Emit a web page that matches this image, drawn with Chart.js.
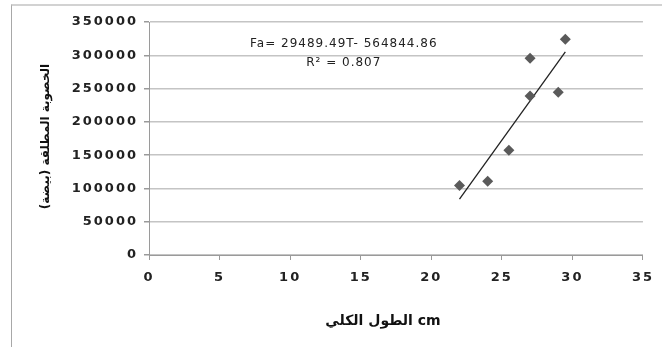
<!DOCTYPE html>
<html>
<head>
<meta charset="utf-8">
<script src="https://cdn.jsdelivr.net/npm/chart.js@4"></script>
<style>
  body { margin: 0; background: #fff; }
  #wrap { position: relative; width: 662px; height: 347px; overflow: hidden; }
  #frame { position: absolute; left: 11px; top: 4px; width: 660px; height: 360px;
           border-top: 2px solid #d2d2d2; border-left: 1px solid #a8a8a8; border-right: 1px solid #c8c8c8; }
  canvas { position: absolute; left: 0; top: 0; }
</style>
</head>
<body>
<div id="wrap">
  <div id="frame"></div>
  <canvas id="myChart" width="662" height="347"></canvas>
</div>
<script>
// valores
const longitud = [22, 24, 25.5, 27, 27, 29, 29.5];
const fecundidad = [104400, 110850, 157500, 238700, 295400, 244300, 324000];
const ticksX = [0, 5, 10, 15, 20, 25, 30, 35];
const ticksY = [0, 50000, 100000, 150000, 200000, 250000, 300000, 350000];

// linea de tendencia (texto de la ecuacion)
const pendiente = 29489.49;
const intercepto = -564844.86;
const r2 = 0.807;

const tituloX = "الطول الكلي cm";
const tituloY = "الخصوبة المطلقة (بيضة)";

const puntos = longitud.map((x, i) => ({ x: x, y: fecundidad[i] }));
const xMin = Math.min(...longitud);
const xMax = Math.max(...longitud);
const tendencia = [
  { x: xMin, y: pendiente * xMin + intercepto },
  { x: xMax, y: pendiente * xMax + intercepto },
];

// espaciado de letras para los numeros de los ejes
const espaciado = {
  id: "espaciado",
  beforeDraw(chart) {
    chart.ctx.letterSpacing = "2px";
  },
  beforeDatasetsDraw(chart) {
    chart.ctx.letterSpacing = "0px";
  },
};

// titulos de ejes y ecuacion
const textos = {
  id: "textos",
  afterDraw(chart) {
    const ctx = chart.ctx;
    const area = chart.chartArea;
    const sx = chart.scales.x;
    const sy = chart.scales.y;
    ctx.save();
    ctx.letterSpacing = "0px";
    ctx.fillStyle = "#111";

    // titulo eje X
    ctx.font = "bold 14px 'DejaVu Sans'";
    ctx.textAlign = "center";
    ctx.textBaseline = "middle";
    ctx.fillText(tituloX, 383, 321);

    // titulo eje Y
    ctx.save();
    ctx.translate(46, (area.top + area.bottom) / 2 - 2);
    ctx.rotate(-Math.PI / 2);
    ctx.direction = "rtl";
    ctx.font = "bold 12px 'DejaVu Sans'";
    ctx.textAlign = "center";
    ctx.fillText(tituloY, 0, 0);
    ctx.restore();

    // ecuacion
    ctx.font = "12px 'DejaVu Sans'";
    ctx.letterSpacing = "1px";
    ctx.fillStyle = "#222";
    const ex = sx.getPixelForValue(13.8);
    ctx.fillText("Fa= " + pendiente + "T- " + Math.abs(intercepto), ex, sy.getPixelForValue(317000));
    ctx.fillText("R² = " + r2, ex, sy.getPixelForValue(288000));
    ctx.restore();
  },
};

const fuenteEjes = { family: "'DejaVu Sans'", size: 13, weight: "bold" };

const config = {
  type: "scatter",
  data: {
    datasets: [
      {
        label: "datos",
        data: puntos,
        pointStyle: "rectRot",
        pointRadius: 5.5,
        backgroundColor: "#5a5a5a",
        borderWidth: 0,
      },
      {
        label: "tendencia",
        type: "line",
        data: tendencia,
        showLine: true,
        pointRadius: 0,
        borderColor: "#222",
        borderWidth: 1.3,
        fill: false,
      },
    ],
  },
  options: {
    responsive: false,
    animation: false,
    layout: { padding: { top: 22, right: 17, left: 0, bottom: 0 } },
    plugins: { legend: { display: false }, tooltip: { enabled: false } },
    scales: {
      x: {
        type: "linear",
        min: 0,
        max: 35,
        afterBuildTicks: (s) => { s.ticks = ticksX.map((v) => ({ value: v })); },
        afterFit: (s) => { s.height = 92; },
        grid: { drawOnChartArea: false, tickLength: 5, color: "#9a9a9a" },
        border: { color: "#9a9a9a" },
        ticks: { font: fuenteEjes, color: "#222", padding: 10, callback: (v) => String(v) },
      },
      y: {
        min: 0,
        max: 350000,
        afterBuildTicks: (s) => { s.ticks = ticksY.map((v) => ({ value: v })); },
        afterFit: (s) => { s.width = 149; },
        grid: { color: "#c4c4c4", lineWidth: 1.5, tickLength: 5, tickColor: "#9a9a9a" },
        border: { color: "#9a9a9a" },
        ticks: { font: fuenteEjes, color: "#222", padding: 6, callback: (v) => String(v) },
      },
    },
  },
  plugins: [espaciado, textos],
};

new Chart(document.getElementById("myChart").getContext("2d"), config);
</script>
</body>
</html>
